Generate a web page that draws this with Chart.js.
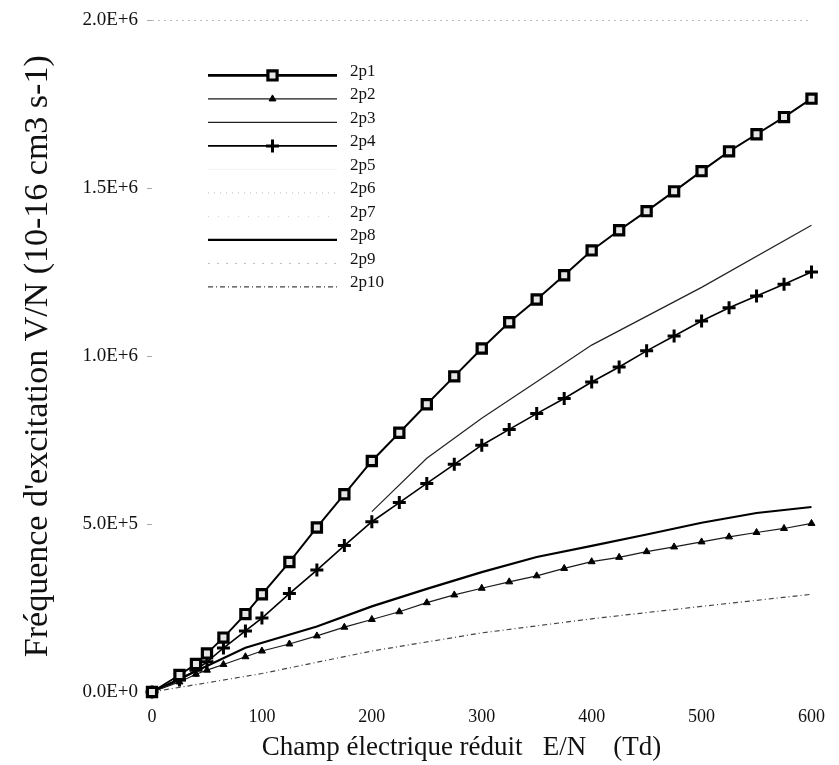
<!DOCTYPE html>
<html><head><meta charset="utf-8">
<script src="https://cdn.jsdelivr.net/npm/chart.js@4.4.0/dist/chart.umd.min.js"></script>
<style>html,body{margin:0;padding:0;background:#fff;}</style>
</head><body>
<canvas id="c" width="839" height="765"></canvas>
<script>
// ---------- data ----------
const seriesNames = ['2p1','2p2','2p3','2p4','2p5','2p6','2p7','2p8','2p9','2p10'];
const xMarked = [0,25,40,50,65,85,100,125,150,175,200,225,250,275,300,325,350,375,400,425,450,475,500,525,550,575,600];
const v2p1 = [0,5.06e4,8.33e4,1.15e5,1.62e5,2.32e5,2.91e5,3.87e5,4.90e5,5.89e5,6.88e5,7.72e5,8.57e5,9.40e5,1.023e6,1.101e6,1.169e6,1.241e6,1.315e6,1.375e6,1.432e6,1.491e6,1.551e6,1.610e6,1.661e6,1.712e6,1.767e6];
const v2p2 = [0,3.0e4,5.3e4,6.5e4,8.2e4,1.05e5,1.22e5,1.43e5,1.67e5,1.93e5,2.16e5,2.39e5,2.66e5,2.89e5,3.09e5,3.28e5,3.46e5,3.68e5,3.88e5,4.01e5,4.18e5,4.32e5,4.47e5,4.62e5,4.75e5,4.87e5,5.02e5];
const v2p4 = [0,3.57e4,6.5e4,9.0e4,1.31e5,1.82e5,2.20e5,2.93e5,3.63e5,4.36e5,5.07e5,5.64e5,6.21e5,6.78e5,7.35e5,7.82e5,8.29e5,8.74e5,9.23e5,9.68e5,1.016e6,1.060e6,1.105e6,1.144e6,1.179e6,1.214e6,1.251e6];
const x2p3 = [200,250,300,350,400,500,600];
const v2p3 = [5.37e5,6.96e5,8.15e5,9.24e5,1.033e6,1.205e6,1.39e6];
const x2p8 = [0,85,150,200,250,300,350,400,450,500,550,600];
const v2p8 = [0,1.32e5,1.95e5,2.55e5,3.07e5,3.57e5,4.02e5,4.35e5,4.69e5,5.04e5,5.33e5,5.51e5];
const x2p10 = [0,100,200,300,400,500,600];
const v2p10 = [0,5.5e4,1.22e5,1.76e5,2.18e5,2.55e5,2.91e5];
const xTickValues = [0,100,200,300,400,500,600];
const xTickLabels = ['0','100','200','300','400','500','600'];
const yTickValues = [0,5e5,1e6,1.5e6,2e6];
const yTickLabels = ['0.0E+0','5.0E+5','1.0E+6','1.5E+6','2.0E+6'];
const xTitle = 'Champ électrique réduit   E/N    (Td)      ';
const yTitle = "Fréquence d'excitation V/N (10-16 cm3 s-1)";

// ---------- build ----------
const pts = (xs, ys) => xs.map((x, i) => ({x: x, y: ys[i]}));
const SERIF = "'Liberation Serif','Times New Roman','DejaVu Serif',serif";

const datasets = [
  {label: seriesNames[0], data: pts(xMarked, v2p1), borderColor: '#000', borderWidth: 2,
   pointStyle: 'rect', pointRadius: 6.5, pointBorderWidth: 3.2, pointBackgroundColor: '#e6e6e6', pointBorderColor: '#000'},
  {label: seriesNames[1], data: pts(xMarked, v2p2), borderColor: '#1a1a1a', borderWidth: 1.2,
   pointStyle: 'triangle', pointRadius: 4, pointBorderWidth: 1, pointBackgroundColor: '#000', pointBorderColor: '#000'},
  {label: seriesNames[2], data: pts(x2p3, v2p3), borderColor: '#222', borderWidth: 1.2, pointRadius: 0},
  {label: seriesNames[3], data: pts(xMarked, v2p4), borderColor: '#000', borderWidth: 1.6,
   pointStyle: 'cross', pointRadius: 6.5, pointBorderWidth: 3, pointBackgroundColor: '#000', pointBorderColor: '#000'},
  {label: seriesNames[4], data: [], borderColor: '#f2f2f2', borderWidth: 1, pointRadius: 0},
  {label: seriesNames[5], data: [], borderColor: '#bbb', borderWidth: 1, borderDash: [1, 5], pointRadius: 0},
  {label: seriesNames[6], data: [], borderColor: '#ccc', borderWidth: 1, borderDash: [1, 9], pointRadius: 0},
  {label: seriesNames[7], data: pts(x2p8, v2p8), borderColor: '#000', borderWidth: 2.2, pointRadius: 0},
  {label: seriesNames[8], data: [], borderColor: '#bbb', borderWidth: 1, borderDash: [2, 7], pointRadius: 0},
  {label: seriesNames[9], data: pts(x2p10, v2p10), borderColor: '#444', borderWidth: 1.2, borderDash: [5, 3, 1, 3], pointRadius: 0}
];
datasets.forEach(d => { d.fill = false; d.tension = 0; d.clip = false; });

// legend drawn inside the plot, line with marker in the middle, text at right
const inlineLegend = {
  id: 'inlineLegend',
  afterDatasetsDraw(chart) {
    const ctx = chart.ctx, ca = chart.chartArea;
    const x0 = ca.left + 56, x1 = ca.left + 185, xm = (x0 + x1) / 2, xt = ca.left + 198;
    chart.data.datasets.forEach((ds, i) => {
      const yc = ca.top + 51 + 23.5 * i;
      ctx.save();
      ctx.strokeStyle = ds.borderColor;
      ctx.lineWidth = ds.borderWidth + (i === 0 ? 0.6 : 0);
      ctx.setLineDash(ds.borderDash || []);
      ctx.beginPath(); ctx.moveTo(x0, yc + 4); ctx.lineTo(x1, yc + 4); ctx.stroke();
      ctx.setLineDash([]);
      if (ds.pointRadius > 0) {
        ctx.fillStyle = ds.pointBackgroundColor;
        ctx.strokeStyle = ds.pointBorderColor;
        ctx.lineWidth = ds.pointBorderWidth;
        Chart.helpers.drawPoint(ctx, {pointStyle: ds.pointStyle, radius: ds.pointRadius, rotation: 0, borderWidth: ds.pointBorderWidth}, xm, yc + 4);
      }
      ctx.fillStyle = '#111';
      ctx.font = "17px " + SERIF;
      ctx.textAlign = 'left'; ctx.textBaseline = 'middle';
      ctx.fillText(ds.label, xt, yc);
      ctx.restore();
    });
  }
};

new Chart(document.getElementById('c'), {
  type: 'line',
  data: {datasets: datasets},
  plugins: [inlineLegend],
  options: {
    responsive: false,
    animation: false,
    events: [],
    layout: {padding: {top: 20, right: 17.5, left: 0, bottom: 0}},
    plugins: {legend: {display: false}, tooltip: {enabled: false}},
    scales: {
      x: {
        type: 'linear', min: 0, max: 600,
        afterBuildTicks: s => { s.ticks = xTickValues.map(v => ({value: v})); },
        afterFit: s => { s.height = 73; },
        ticks: {callback: (v, i) => xTickLabels[i], autoSkip: false, maxRotation: 0, padding: 14,
                color: '#111', font: {family: SERIF, size: 18}},
        grid: {display: false, drawTicks: false},
        border: {display: false},
        title: {display: true, text: xTitle, color: '#111', font: {family: SERIF, size: 27}, padding: {top: 0, bottom: 1}}
      },
      y: {
        type: 'linear', min: 0, max: 2e6,
        afterBuildTicks: s => { s.ticks = yTickValues.map(v => ({value: v})); },
        afterFit: s => { s.width = 152; },
        ticks: {callback: (v, i) => yTickLabels[i], padding: 9, color: '#111', font: {family: SERIF, size: 19}},
        grid: {display: true, drawOnChartArea: true, drawTicks: true, tickLength: 5, tickColor: '#aaa',
               color: c => (c.tick && c.tick.value === 2e6) ? '#bdbdbd' : 'rgba(0,0,0,0)', lineWidth: 1},
        border: {display: false, dash: [2, 4]},
        title: {display: true, text: yTitle, color: '#111', font: {family: SERIF, size: 34}, padding: {top: 18, bottom: 0}}
      }
    }
  }
});
</script>
</body></html>
